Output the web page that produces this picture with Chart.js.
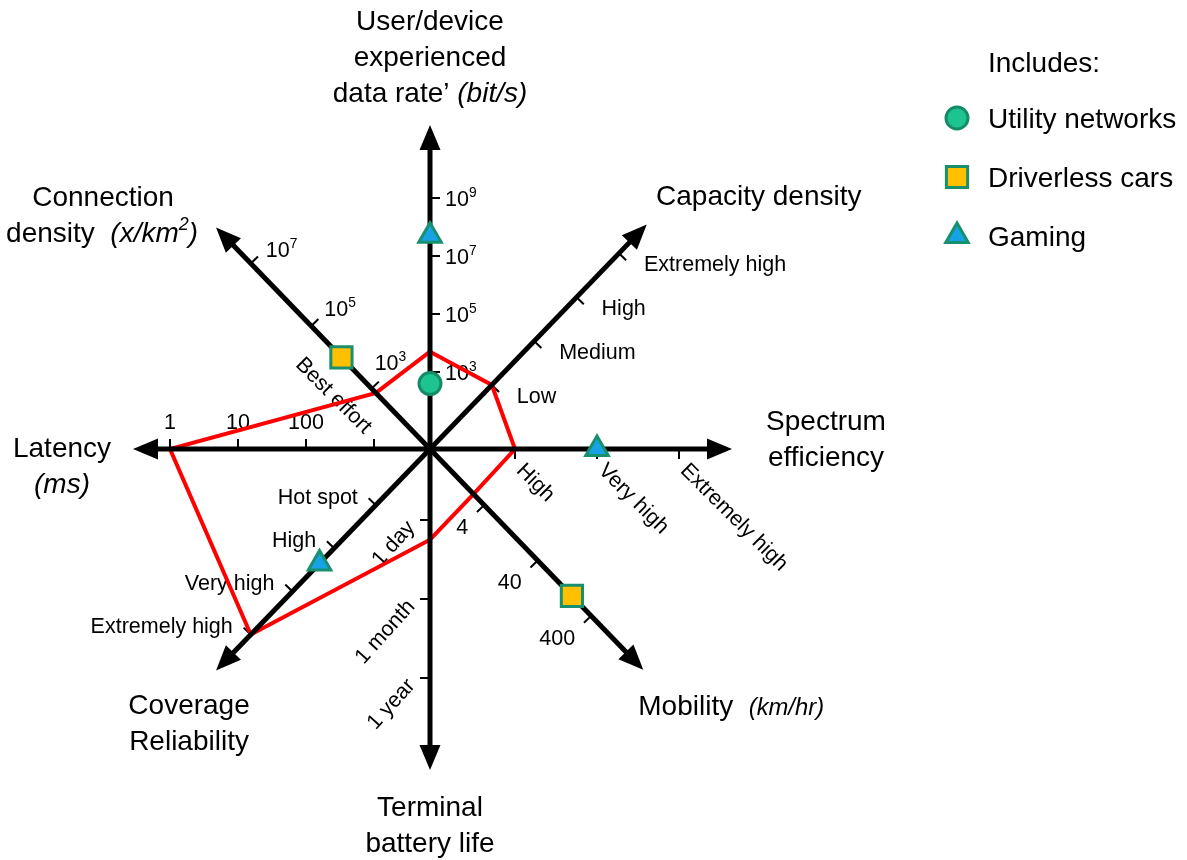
<!DOCTYPE html>
<html>
<head>
<meta charset="utf-8">
<script src="https://cdn.jsdelivr.net/npm/chart.js@4.4.1/dist/chart.umd.min.js"></script>
<style>
  html, body { margin: 0; padding: 0; background: #fff; }
  #wrap { width: 1187px; height: 860px; }
</style>
</head>
<body>
<div id="wrap"><canvas id="radar" width="1187" height="860"></canvas></div>
<script>
// Axes round the diagram, counter-clockwise from the top
const axisKeys = ['rate', 'capacity', 'spectrum', 'mobility', 'battery', 'coverage', 'latency', 'connection'];

// Tick labels per axis, listed from the centre outwards
const rateTicks = ['10^3', '10^5', '10^7', '10^9'];
const capacityTicks = ['Low', 'Medium', 'High', 'Extremely high'];
const spectrumTicks = ['High', 'Very high', 'Extremely high'];
const mobilityTicks = ['4', '40', '400'];
const batteryTicks = ['1 day', '1 month', '1 year'];
const coverageTicks = ['Hot spot', 'High', 'Very high', 'Extremely high'];
const latencyTicks = ['', '100', '10', '1'];
const connectionTicks = ['10^3', '10^5', '10^7'];
const connectionFloorLabel = 'Best effort';

// Axis titles (*...* = italic, ^n = superscript)
const rateTitle = ['User/device', 'experienced', 'data rate\u2019 *(bit/s)*'];
const capacityTitle = ['Capacity density'];
const spectrumTitle = ['Spectrum', 'efficiency'];
const mobilityTitle = ['Mobility  *(km/hr)*'];
const batteryTitle = ['Terminal', 'battery life'];
const coverageTitle = ['Coverage', 'Reliability'];
const latencyTitle = ['Latency', '*(ms)*'];
const connectionTitle = ['Connection', 'density  *(x/km^2)*'];

// Requirement outline, in tick steps along each axis (same order as axisKeys)
const outlineLevels = [0.35, 0, 0, -0.2, 0.25, 3, 3, -0.07];

// Use cases: which axis and how far along it (tick steps)
const legendTitle = 'Includes:';
const useCaseNames = ['Utility networks', 'Driverless cars', 'Gaming'];
const utilityPoints = [{ axis: 'rate', level: -0.2 }];
const driverlessPoints = [{ axis: 'connection', level: 0.5 }, { axis: 'mobility', level: 1.64 }];
const gamingPoints = [{ axis: 'rate', level: 2.35 }, { axis: 'spectrum', level: 1 }, { axis: 'coverage', level: 1.35 }];

// ---- layout / styling ----
const FAMILY = '"Liberation Sans", Arial, sans-serif';
const TITLE_SIZE = 28;
const TICK_SIZE = 21.5;

const axisGeom = {
    rate:       { angle: 90,  first: 77, step: 58, length: 324, ticks: rateTicks,       title: rateTitle,       label: { dx: 15, dy: 0, align: 'left', rot: 0 },    tdx: [0],          tdy: -105 },
    capacity:   { angle: 46,  first: 89, step: 61, length: 312, ticks: capacityTicks,   title: capacityTitle,   label: { dx: 25, dy: 10, align: 'left', rot: 0 },   tdx: [112],        tdy: -30 },
    spectrum:   { angle: 0,   first: 85, step: 82, length: 302, ticks: spectrumTicks,   title: spectrumTitle,   label: { dx: 6, dy: 17, align: 'left', rot: 45 },   tdx: [94],         tdy: -29 },
    mobility:   { angle: -46, first: 78, step: 77, length: 307, ticks: mobilityTicks,   title: mobilityTitle,   label: { dx: -16, dy: 21, align: 'right', rot: 0 }, tdx: [-5],         tdy: 35, tAlign: 'left', unitScale: 0.85 },
    battery:    { angle: -90, first: 71, step: 79, length: 321, ticks: batteryTicks,    title: batteryTitle,    label: { dx: -20, dy: 3, align: 'right', rot: -48 }, tdx: [0],         tdy: 36 },
    coverage:   { angle: 226, first: 78, step: 60, length: 308, ticks: coverageTicks,   title: coverageTitle,   label: { dx: -18, dy: -9, align: 'right', rot: 0 }, tdx: [-27],        tdy: 33 },
    latency:    { angle: 180, first: 56, step: 68, length: 297, ticks: latencyTicks,    title: latencyTitle,    label: { dx: 0, dy: -28, align: 'center', rot: 0 }, tdx: [-71],        tdy: -2 },
    connection: { angle: 134, first: 84, step: 87, length: 308, ticks: connectionTicks, title: connectionTitle, label: { dx: 15, dy: -14, align: 'left', rot: 0, nudge: [[-12, -12], [-2, -4], [0, 0]] }, tdx: [-113, -114], tdy: -32 }
};

function levelToPoint(key, level) {
    const g = axisGeom[key];
    const r = g.first + g.step * level;
    const a = g.angle * Math.PI / 180;
    return { x: r * Math.cos(a), y: r * Math.sin(a) };
}

function radiusToPoint(key, r) {
    const a = axisGeom[key].angle * Math.PI / 180;
    return { x: r * Math.cos(a), y: r * Math.sin(a) };
}

// rich text: italics + superscripts
function runsOf(str) {
    const out = [];
    str.split('*').forEach((part, i) => {
        part.split(/\^(\d+)/).forEach((seg, j) => {
            if (seg) out.push({ t: seg, italic: i % 2 === 1, sup: j % 2 === 1 });
        });
    });
    return out;
}

function drawRich(ctx, str, x, y, size, align, italicScale) {
    const runs = runsOf(str);
    const fontFor = r => {
        let s = r.italic ? size * (italicScale || 1) : size;
        if (r.sup) s *= 0.64;
        return (r.italic ? 'italic ' : '') + s.toFixed(1) + 'px ' + FAMILY;
    };
    let total = 0;
    runs.forEach(r => { ctx.font = fontFor(r); r.w = ctx.measureText(r.t).width; total += r.w; });
    let cx = align === 'center' ? x - total / 2 : (align === 'right' ? x - total : x);
    const base = y + size * 0.36;
    ctx.textAlign = 'left';
    ctx.textBaseline = 'alphabetic';
    runs.forEach(r => {
        ctx.font = fontFor(r);
        ctx.fillText(r.t, cx, r.sup ? base - size * 0.42 : base);
        cx += r.w;
    });
}

function drawMarker(ctx, style, r, x, y) {
    ctx.beginPath();
    if (style === 'circle') {
        ctx.arc(x, y, r, 0, Math.PI * 2);
    } else if (style === 'rect') {
        const s = r * Math.SQRT1_2;
        ctx.rect(x - s, y - s, 2 * s, 2 * s);
    } else {
        ctx.moveTo(x, y - r);
        ctx.lineTo(x + r * 0.866, y + r * 0.5);
        ctx.lineTo(x - r * 0.866, y + r * 0.5);
        ctx.closePath();
    }
    ctx.fill();
    ctx.stroke();
}

const markerStyles = [
    { pointStyle: 'circle',   radius: 11, fill: '#1ec490', border: '#158c68' },
    { pointStyle: 'rect',     radius: 15, fill: '#ffc000', border: '#1a8f6d' },
    { pointStyle: 'triangle', radius: 13, fill: '#18a2e6', border: '#16906e' }
];

// axis decoration: arrowheads, tick marks, tick labels, titles, legend
const diagramPlugin = {
    id: 'diagram',
    beforeDatasetsDraw(chart) {
        const ctx = chart.ctx;
        const sx = chart.scales.x, sy = chart.scales.y;
        const px = p => ({ x: sx.getPixelForValue(p.x), y: sy.getPixelForValue(p.y) });
        const c = px({ x: 0, y: 0 });
        ctx.save();
        ctx.fillStyle = '#000';
        ctx.strokeStyle = '#000';
        axisKeys.forEach(key => {
            const g = axisGeom[key];
            const tip = px(radiusToPoint(key, g.length));
            const len = Math.hypot(tip.x - c.x, tip.y - c.y);
            const ux = (tip.x - c.x) / len, uy = (tip.y - c.y) / len;
            const nx = -uy, ny = ux;
            // arrowhead
            ctx.beginPath();
            ctx.moveTo(tip.x, tip.y);
            ctx.lineTo(tip.x - ux * 25 + nx * 10.5, tip.y - uy * 25 + ny * 10.5);
            ctx.lineTo(tip.x - ux * 25 - nx * 10.5, tip.y - uy * 25 - ny * 10.5);
            ctx.closePath();
            ctx.fill();
            // ticks + labels
            g.ticks.forEach((label, i) => {
                const p = px(levelToPoint(key, i));
                ctx.lineWidth = 2;
                ctx.beginPath();
                ctx.moveTo(p.x, p.y);
                ctx.lineTo(p.x + nx * 10, p.y + ny * 10);
                ctx.stroke();
                if (!label) return;
                const L = g.label;
                const n = L.nudge ? L.nudge[i] : [0, 0];
                ctx.save();
                ctx.translate(p.x + L.dx + n[0], p.y + L.dy + n[1]);
                ctx.rotate(L.rot * Math.PI / 180);
                drawRich(ctx, label, 0, 0, TICK_SIZE, L.align);
                ctx.restore();
            });
            // title
            g.title.forEach((line, i) => {
                const dx = g.tdx[Math.min(i, g.tdx.length - 1)];
                drawRich(ctx, line, tip.x + dx, tip.y + g.tdy + i * 36, TITLE_SIZE, g.tAlign || 'center', g.unitScale);
            });
        });
        // floor label of connection density
        const f = px(levelToPoint('connection', 0));
        ctx.save();
        ctx.translate(f.x - 37, f.y + 6);
        ctx.rotate(Math.PI / 4);
        drawRich(ctx, connectionFloorLabel, 0, 0, TICK_SIZE, 'center');
        ctx.restore();
        // legend
        drawRich(ctx, legendTitle, 988, 62, TITLE_SIZE, 'left');
        useCaseNames.forEach((name, i) => {
            const m = markerStyles[i];
            const y = 118 + i * 59;
            ctx.fillStyle = m.fill;
            ctx.strokeStyle = m.border;
            ctx.lineWidth = 3;
            drawMarker(ctx, m.pointStyle, m.radius, 957, y);
            ctx.fillStyle = '#000';
            drawRich(ctx, name, 988, y, TITLE_SIZE, 'left');
        });
        ctx.restore();
    }
};

const axisDatasets = axisKeys.map(key => ({
    label: key,
    data: [{ x: 0, y: 0 }, radiusToPoint(key, axisGeom[key].length - 14)],
    showLine: true,
    borderColor: '#000',
    borderWidth: 5,
    borderCapStyle: 'butt',
    pointRadius: 0,
    order: 1
}));

const outlinePoints = axisKeys.map((key, i) => levelToPoint(key, outlineLevels[i]));
outlinePoints.push(outlinePoints[0]);

const useCaseData = [utilityPoints, driverlessPoints, gamingPoints];
const markerDatasets = useCaseData.map((pts, i) => ({
    label: useCaseNames[i],
    data: pts.map(p => levelToPoint(p.axis, p.level)),
    pointStyle: markerStyles[i].pointStyle,
    pointRadius: markerStyles[i].radius,
    backgroundColor: markerStyles[i].fill,
    borderColor: markerStyles[i].border,
    borderWidth: 3,
    showLine: false,
    order: 0
}));

new Chart(document.getElementById('radar'), {
    type: 'scatter',
    data: {
        datasets: [
            ...markerDatasets,
            ...axisDatasets,
            {
                label: 'Requirements',
                data: outlinePoints,
                showLine: true,
                borderColor: '#ff0000',
                borderWidth: 4,
                borderJoinStyle: 'miter',
                pointRadius: 0,
                order: 2
            }
        ]
    },
    options: {
        responsive: false,
        animation: false,
        devicePixelRatio: 1,
        events: [],
        layout: { padding: 0, autoPadding: false },
        scales: {
            x: { type: 'linear', min: -430, max: 757, display: false },
            y: { type: 'linear', min: -411, max: 449, display: false }
        },
        plugins: {
            legend: { display: false },
            tooltip: { enabled: false }
        }
    },
    plugins: [diagramPlugin]
});
</script>
</body>
</html>
